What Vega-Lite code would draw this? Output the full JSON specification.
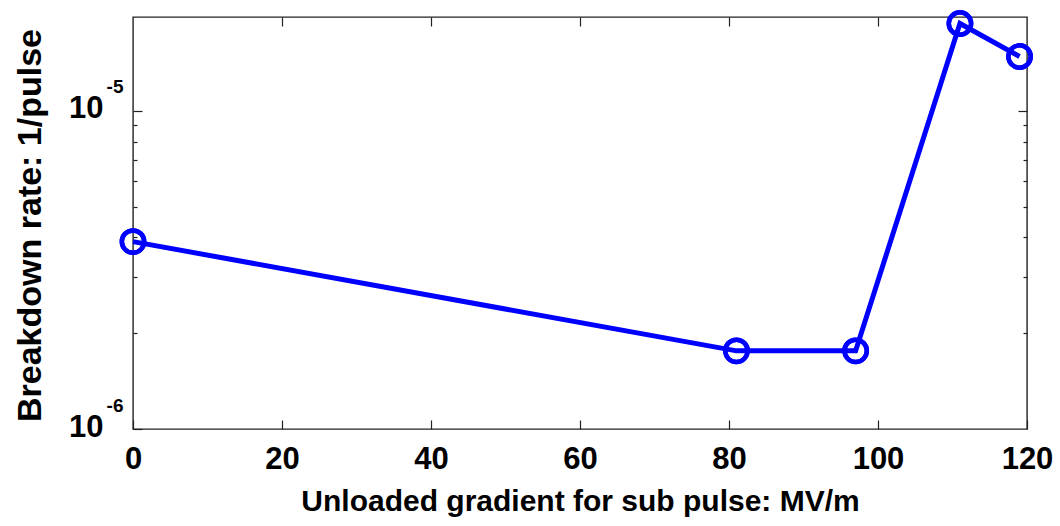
{
  "$schema": "https://vega.github.io/schema/vega-lite/v6.json",
  "width": 894,
  "height": 412,
  "autosize": {"type": "none"},
  "padding": {"left": 133, "top": 17, "right": 33, "bottom": 97},
  "background": "white",
  "config": {
    "font": "Liberation Sans",
    "view": {"stroke": "#222222", "strokeWidth": 1.4},
    "axis": {"domain": false, "grid": false, "tickColor": "#222222", "tickWidth": 1.2, "labelColor": "black", "titleColor": "black", "labelFont": "Liberation Sans", "titleFont": "Liberation Sans", "labelFontWeight": "bold", "titleFontWeight": "bold"}
  },
  "data": {
    "values": [
      {"gradient": 0, "rate": 3.88e-6},
      {"gradient": 81, "rate": 1.76e-6},
      {"gradient": 97, "rate": 1.76e-6},
      {"gradient": 111, "rate": 1.88e-5},
      {"gradient": 119, "rate": 1.48e-5}
    ]
  },
  "resolve": {"axis": {"x": "independent", "y": "independent"}},
  "layer": [
    {
      "mark": {"type": "line", "color": "#0000ff", "strokeWidth": 5},
      "encoding": {
        "x": {
          "field": "gradient", "type": "quantitative",
          "scale": {"domain": [0, 120], "nice": false, "zero": false},
          "axis": {
            "orient": "bottom",
            "values": [0, 20, 40, 60, 80, 100, 120],
            "tickSize": -9,
            "labelPadding": 24,
            "labelFontSize": 31,
            "labelFlush": false,
            "title": "Unloaded gradient for sub pulse: MV/m",
            "titleFontSize": 30,
            "titlePadding": 12
          }
        },
        "y": {
          "field": "rate", "type": "quantitative",
          "scale": {"type": "log", "domain": [1e-6, 1.97e-5], "nice": false},
          "axis": {
            "orient": "left",
            "values": [0.000001, 0.000002, 0.000003, 0.000004, 0.000005, 0.000006, 0.000007, 0.000008, 0.000009, 0.00001],
            "tickSize": {"condition": {"test": "datum.value == 0.00001 || datum.value == 0.000001", "value": -9}, "value": -4},
            "labelPadding": 39,
            "labelOffset": -2,
            "labelFontSize": 31,
            "labelFlush": false,
            "labelExpr": "datum.value == 0.00001 || datum.value == 0.000001 ? '10' : ''",
            "title": "Breakdown rate:  1/pulse",
            "titleFontSize": 34,
            "titleX": -103,
            "titleY": 208,
            "titleAlign": "center",
            "titleBaseline": "middle"
          }
        }
      }
    },
    {
      "mark": {"type": "point", "shape": "circle", "filled": false, "color": "#0000ff", "strokeWidth": 4.5, "size": 500, "opacity": 1},
      "encoding": {
        "x": {
          "field": "gradient", "type": "quantitative",
          "axis": {"orient": "top", "values": [20, 40, 60, 80, 100], "tickSize": -9, "labels": false, "title": null}
        },
        "y": {
          "field": "rate", "type": "quantitative",
          "axis": {
            "orient": "left",
            "values": [0.000001, 0.00001],
            "ticks": false,
            "tickSize": 0,
            "labelPadding": 10,
            "labelOffset": -24,
            "labelFontSize": 19,
            "labelFlush": false,
            "labelExpr": "datum.value == 0.00001 ? '-5' : '-6'",
            "title": null
          }
        }
      }
    },
    {
      "mark": {"type": "point", "shape": "circle", "filled": false, "color": "#0000ff", "strokeWidth": 4.5, "size": 500, "opacity": 1},
      "encoding": {
        "x": {"field": "gradient", "type": "quantitative", "axis": null},
        "y": {
          "field": "rate", "type": "quantitative",
          "axis": {
            "orient": "right",
            "values": [0.000002, 0.000003, 0.000004, 0.000005, 0.000006, 0.000007, 0.000008, 0.000009, 0.00001],
            "tickSize": {"condition": {"test": "datum.value == 0.00001", "value": -9}, "value": -4},
            "labels": false,
            "title": null
          }
        }
      }
    }
  ]
}
